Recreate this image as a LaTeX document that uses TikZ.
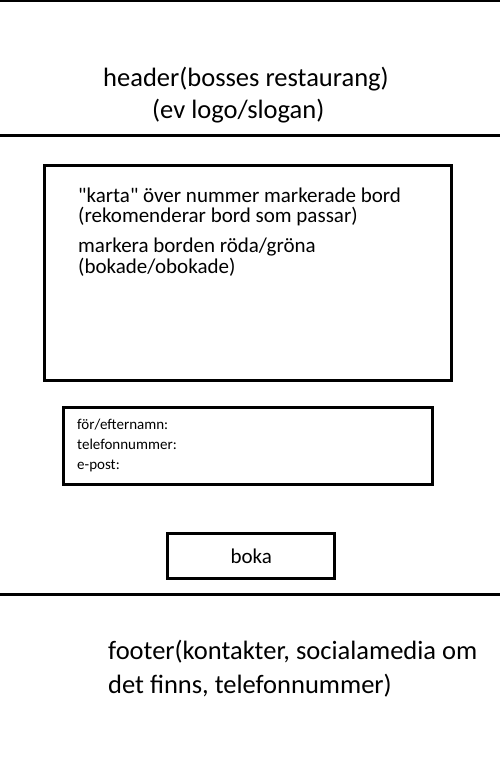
\documentclass[tikz,border=0pt]{standalone}
\usepackage{fontspec}
\setmainfont{Carlito}
\usetikzlibrary{positioning}

\begin{document}
\begin{tikzpicture}[x=1pt, y=-1pt,
    rad/.style={anchor=base west, inner sep=0pt},
    ruta/.style={draw, line width=3pt, inner sep=0pt},
    stor/.style={font=\fontsize{26.5}{32}\selectfont},
    mellan/.style={font=\fontsize{21}{25}\selectfont},
    knapp/.style={font=\fontsize{21}{25}\selectfont},
    liten/.style={font=\fontsize{15}{18}\selectfont}]
  \useasboundingbox (0,0) rectangle (500,772);

  % header
  \draw[line width=1.5pt] (0,0.75) -- (500,0.75);
  \node (rubrik) [rad, stor] at (103,86) {header(bosses restaurang)};
  \node (slogan) [rad, stor] at (152,118) {(ev logo/slogan)};
  \draw[line width=3pt] (0,135) -- (500,135);

  % karta
  \node (karta) [ruta, minimum width=406.7pt, minimum height=215pt] at (248.3,272.5) {};
  \node (k1) [rad, mellan] at (78,202) {\textquotedbl karta\textquotedbl{} över nummer markerade bord};
  \node (k2) [below=20pt of k1.base west, rad, mellan] {(rekomenderar bord som passar)};
  \node (k3) [below=30pt of k2.base west, rad, mellan] {markera borden röda/gröna};
  \node (k4) [below=21pt of k3.base west, rad, mellan] {(bokade/obokade)};

  % formular
  \node (form) [ruta, minimum width=368.7pt, minimum height=76.5pt] at (247.7,445.8) {};
  \node (f1) [rad, liten] at (77,429) {för/efternamn:};
  \node (f2) [below=20pt of f1.base west, rad, liten] {telefonnummer:};
  \node (f3) [below=20pt of f2.base west, rad, liten] {e-post:};

  % knapp
  \node (boka) [ruta, knapp, minimum width=167.3pt, minimum height=45pt] at (251.3,555.8) {boka};

  % footer
  \draw[line width=3pt] (0,594.3) -- (500,594.3);
  \node (fot1) [rad, stor] at (108,659) {footer(kontakter, socialamedia om};
  \node (fot2) [below=34pt of fot1.base west, rad, stor] {det finns, telefonnummer)};
\end{tikzpicture}
\end{document}
